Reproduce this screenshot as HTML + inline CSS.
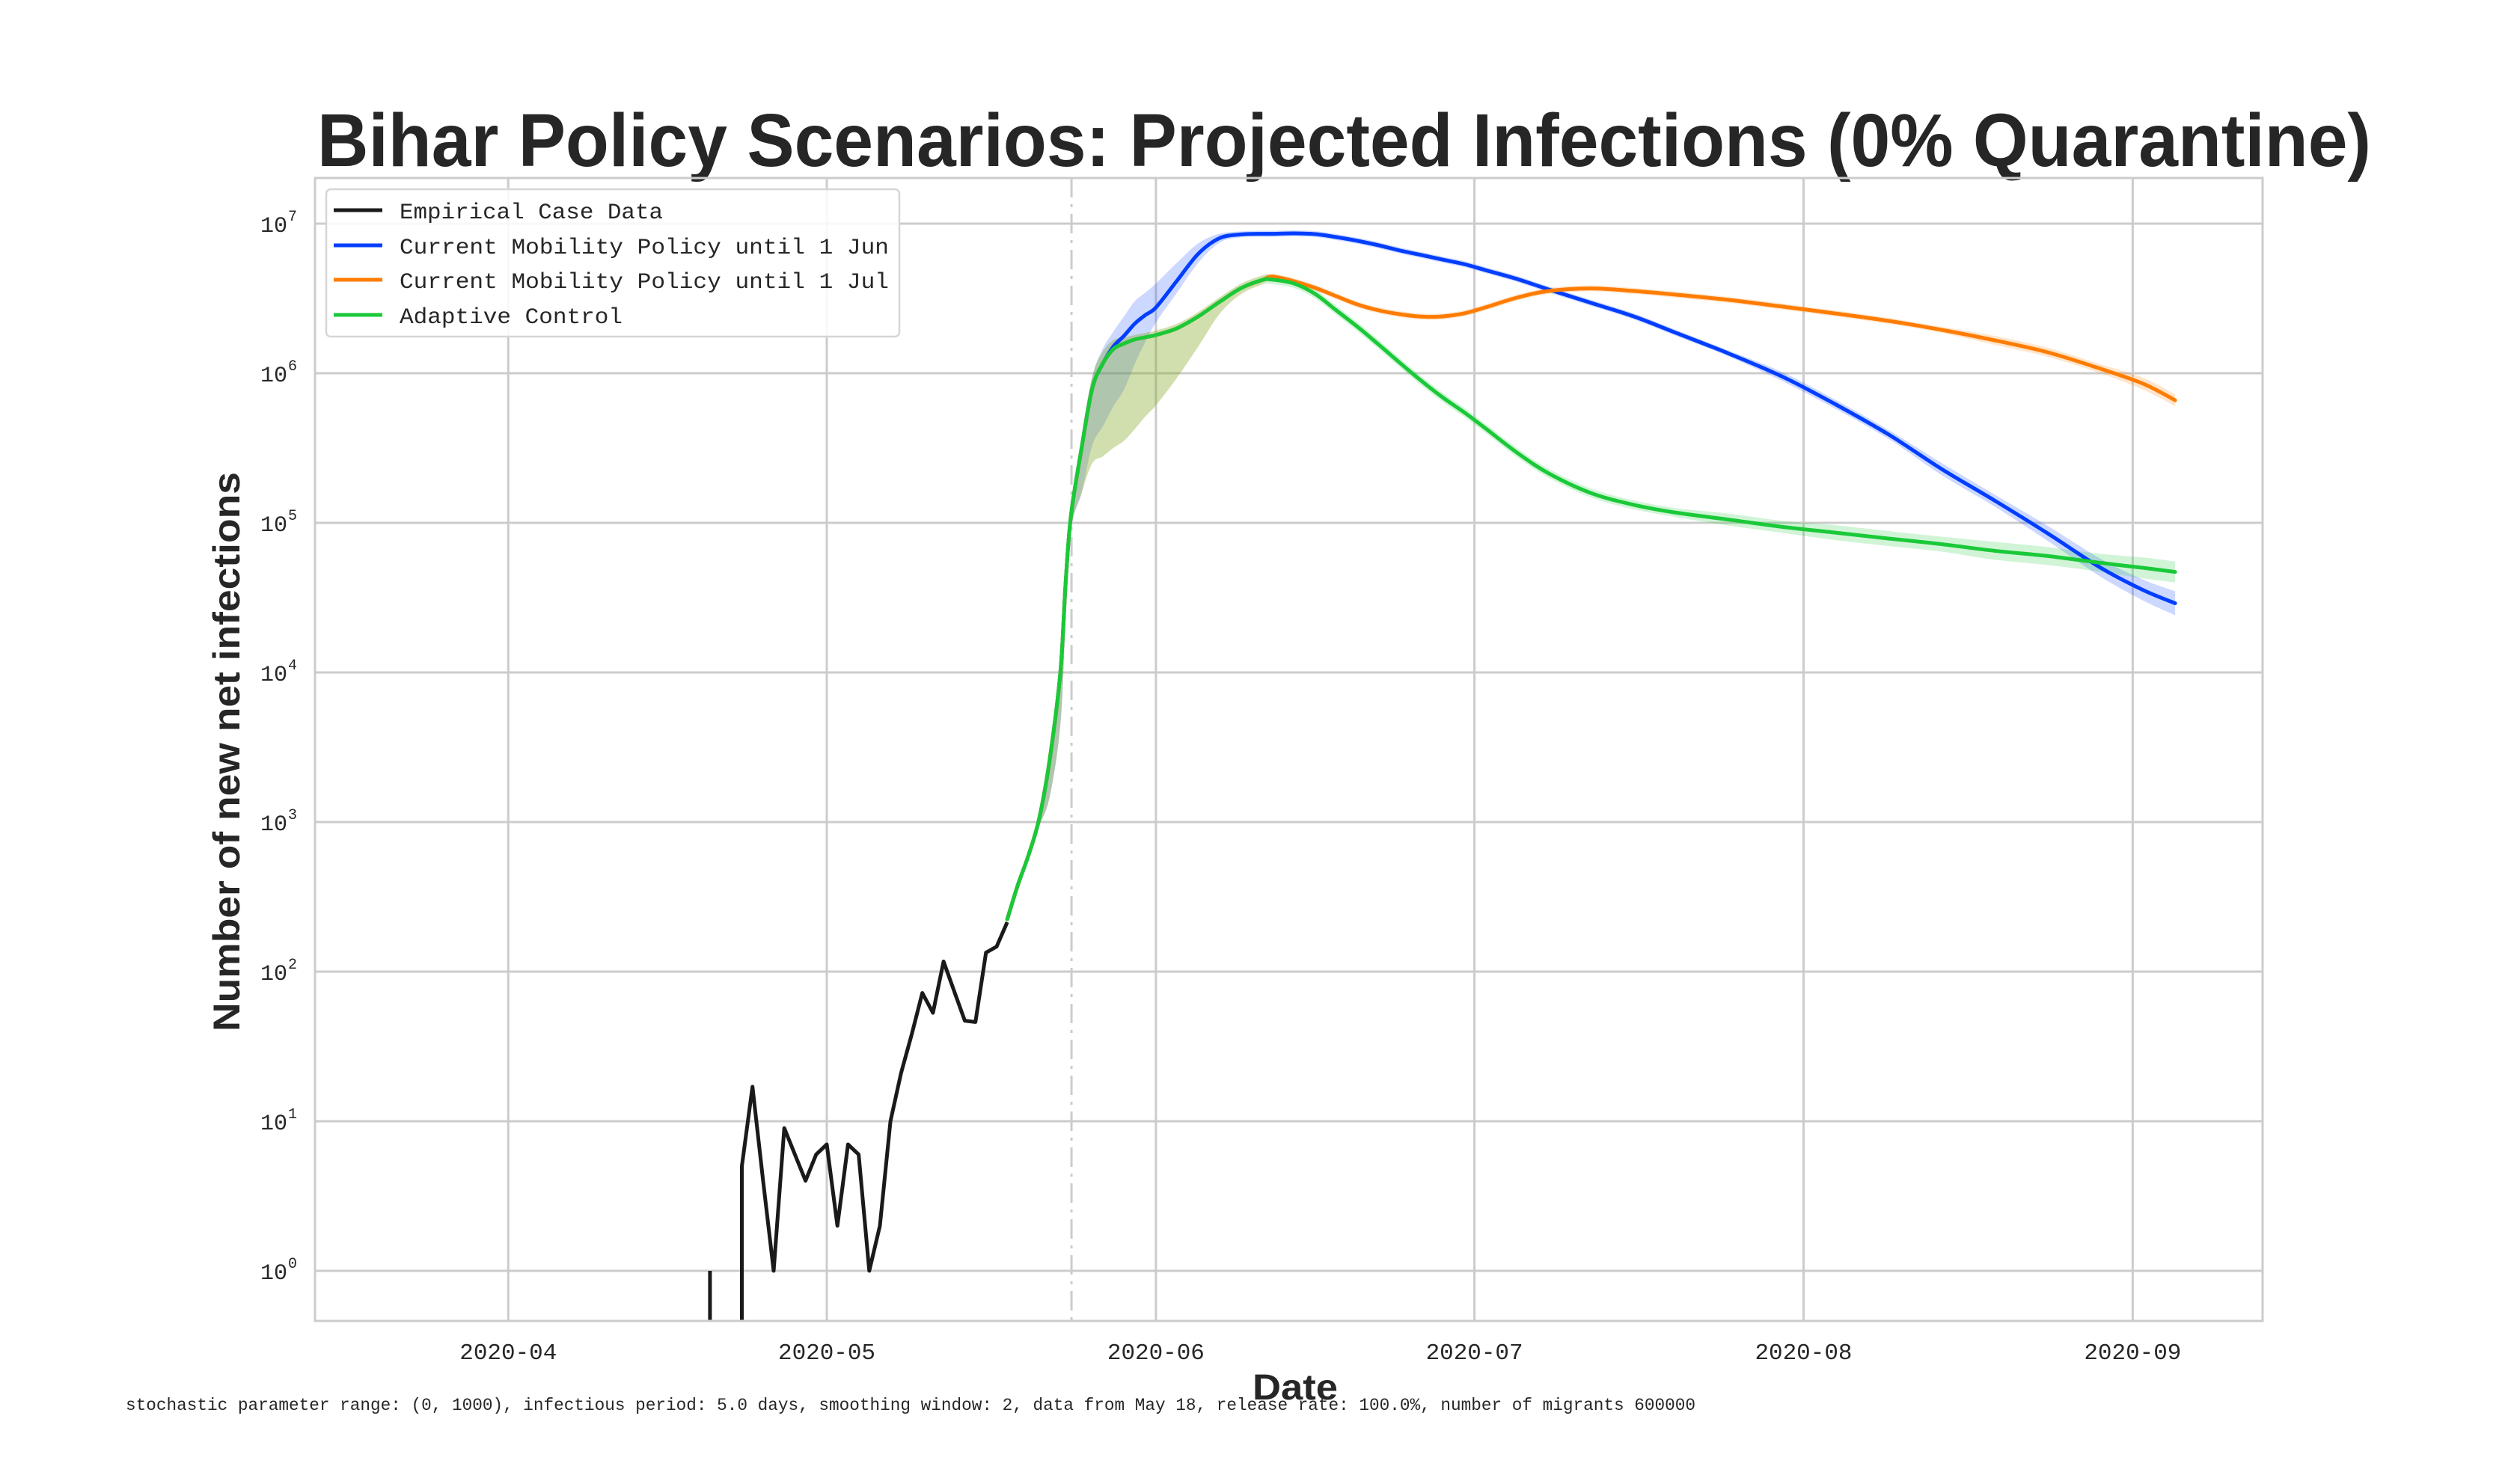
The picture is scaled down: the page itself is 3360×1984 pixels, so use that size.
<!DOCTYPE html>
<html><head><meta charset="utf-8"><style>
html,body{margin:0;padding:0;background:#fff;width:3360px;height:1984px;overflow:hidden;}
svg{display:block;}
</style></head><body>
<svg id="chart" xmlns="http://www.w3.org/2000/svg" width="3360" height="1984" viewBox="0 0 3360 1984">
<rect x="0" y="0" width="3360" height="1984" fill="#fff"/>
<defs><clipPath id="plotclip"><rect x="421" y="238" width="2603" height="1528"/></clipPath></defs>
<text x="424" y="222" font-family="Liberation Sans, sans-serif" font-weight="bold" font-size="100" fill="#262626" textLength="2745" lengthAdjust="spacingAndGlyphs">Bihar Policy Scenarios: Projected Infections (0% Quarantine)</text>
<g id="grid"></g>
<g id="bands" clip-path="url(#plotclip)"></g>
<g id="lines" clip-path="url(#plotclip)"></g>
<rect x="421" y="238" width="2603" height="1528" fill="none" stroke="#cccccc" stroke-width="3"/>
<g id="ticks"></g>
<text x="1731" y="1871" text-anchor="middle" font-family="Liberation Sans, sans-serif" font-weight="bold" font-size="48" fill="#262626" textLength="114" lengthAdjust="spacingAndGlyphs">Date</text>
<text transform="translate(320,1005) rotate(-90)" text-anchor="middle" font-family="Liberation Sans, sans-serif" font-weight="bold" font-size="50" fill="#262626" textLength="748" lengthAdjust="spacingAndGlyphs">Number of new net infections</text>
<text x="168" y="1885" font-family="Liberation Mono, monospace" font-size="23" fill="#262626" textLength="2098" lengthAdjust="spacingAndGlyphs">stochastic parameter range: (0, 1000), infectious period: 5.0 days, smoothing window: 2, data from May 18, release rate: 100.0%, number of migrants 600000</text>
<g id="legend">
<rect x="436" y="253" width="766" height="197" rx="6" fill="#fff" fill-opacity="0.85" stroke="#d6d6d6" stroke-width="2.5"/>
<g><line x1="446" y1="281" x2="511" y2="281" stroke="#1a1a1a" stroke-width="5"/><text x="534" y="292" font-family="Liberation Mono, monospace" font-size="30" fill="#262626" textLength="352" lengthAdjust="spacingAndGlyphs">Empirical Case Data</text></g>
<g><line x1="446" y1="328" x2="511" y2="328" stroke="#023eff" stroke-width="5"/><text x="534" y="339" font-family="Liberation Mono, monospace" font-size="30" fill="#262626" textLength="654" lengthAdjust="spacingAndGlyphs">Current Mobility Policy until 1 Jun</text></g>
<g><line x1="446" y1="374" x2="511" y2="374" stroke="#ff7c00" stroke-width="5"/><text x="534" y="385" font-family="Liberation Mono, monospace" font-size="30" fill="#262626" textLength="654" lengthAdjust="spacingAndGlyphs">Current Mobility Policy until 1 Jul</text></g>
<g><line x1="446" y1="421" x2="511" y2="421" stroke="#1ac938" stroke-width="5"/><text x="534" y="432" font-family="Liberation Mono, monospace" font-size="30" fill="#262626" textLength="298" lengthAdjust="spacingAndGlyphs">Adaptive Control</text></g>
</g>
</svg>
<script>
// days relative to 2020-05-01
const empDays = [-11,-10,-9,-8,-7,-6,-5,-4,-3,-2,-1,0,1,2,3,4,5,6,7,8,9,10,11,12,13,14,15,16,17];
const empValues = [1,0,0,5,17,4,1,9,6,4,6,7,2,7,6,1,2,10,21,38,72,53,117,74,47,46,134,147,214];
const projDays = [17,18,19,20,21,22,22.5,23,24,25,26,27,28,29,30,31,33,35,37,39,41,42,44,46,48,50,52,54,56,58,60,62,65,68,72,76,80,85,90,95,100,105,110,115,120,124,127];
const greenValues = [224,380,600,1050,2630,1.0e4,4.0e4,1.12e5,3.16e5,7.9e5,1.16e6,1.45e6,1.58e6,1.68e6,1.74e6,1.80e6,2.0e6,2.4e6,3.0e6,3.7e6,4.2e6,4.22e6,3.98e6,3.39e6,2.63e6,2.04e6,1.55e6,1.17e6,8.9e5,6.9e5,5.5e5,4.3e5,2.95e5,2.14e5,1.58e5,1.32e5,1.17e5,1.05e5,9.4e4,8.6e4,7.85e4,7.2e4,6.5e4,6.0e4,5.4e4,5.0e4,4.7e4];
const orangeValues = [224,380,600,1050,2630,1.0e4,4.0e4,1.12e5,3.16e5,7.9e5,1.16e6,1.45e6,1.58e6,1.68e6,1.74e6,1.80e6,2.0e6,2.4e6,3.0e6,3.7e6,4.2e6,4.42e6,4.12e6,3.72e6,3.27e6,2.88e6,2.63e6,2.48e6,2.39e6,2.40e6,2.51e6,2.75e6,3.2e6,3.55e6,3.69e6,3.55e6,3.35e6,3.09e6,2.79e6,2.51e6,2.24e6,1.95e6,1.66e6,1.38e6,1.07e6,8.5e5,6.6e5];
const blueValues = [224,380,600,1050,2630,1.0e4,4.0e4,1.12e5,3.16e5,7.9e5,1.16e6,1.51e6,1.78e6,2.14e6,2.45e6,2.75e6,4.17e6,6.3e6,8.0e6,8.47e6,8.55e6,8.55e6,8.61e6,8.51e6,8.13e6,7.67e6,7.16e6,6.61e6,6.17e6,5.75e6,5.37e6,4.9e6,4.27e6,3.63e6,2.95e6,2.4e6,1.86e6,1.35e6,9.5e5,6.2e5,3.9e5,2.29e5,1.41e5,8.5e4,5.0e4,3.55e4,2.9e4];
// band spreads in decades (log10) below / above the line
const greenBandLo = [0,0,-0.02,-0.05,-0.25,-0.35,-0.25,-0.1,-0.3,-0.5,-0.62,-0.66,-0.65,-0.6,-0.53,-0.47,-0.33,-0.2,-0.08,-0.04,-0.03,-0.03,-0.03,-0.03,-0.03,-0.03,-0.03,-0.03,-0.03,-0.03,-0.03,-0.03,-0.03,-0.03,-0.03,-0.03,-0.03,-0.04,-0.04,-0.05,-0.05,-0.05,-0.06,-0.06,-0.06,-0.07,-0.07];
const greenBandHi = [0.02,0.02,0.02,0.03,0.03,0.03,0.04,0.05,0.08,0.08,0.08,0.06,0.04,0.03,0.03,0.03,0.03,0.03,0.03,0.03,0.03,0.03,0.03,0.03,0.03,0.03,0.03,0.03,0.03,0.03,0.03,0.03,0.03,0.03,0.03,0.03,0.03,0.04,0.04,0.05,0.05,0.05,0.06,0.06,0.06,0.07,0.07];
const orangeBandLo = [0,0,-0.02,-0.05,-0.25,-0.35,-0.25,-0.1,-0.3,-0.5,-0.62,-0.66,-0.65,-0.6,-0.53,-0.47,-0.33,-0.2,-0.08,-0.04,-0.03,-0.02,-0.02,-0.02,-0.02,-0.02,-0.02,-0.02,-0.02,-0.02,-0.02,-0.02,-0.02,-0.02,-0.02,-0.02,-0.02,-0.02,-0.02,-0.02,-0.02,-0.02,-0.03,-0.03,-0.03,-0.04,-0.04];
const orangeBandHi = [0.02,0.02,0.02,0.03,0.03,0.03,0.04,0.05,0.08,0.08,0.08,0.06,0.04,0.03,0.03,0.03,0.03,0.03,0.03,0.03,0.03,0.02,0.02,0.02,0.02,0.02,0.02,0.02,0.02,0.02,0.02,0.02,0.02,0.02,0.02,0.02,0.02,0.02,0.02,0.02,0.02,0.02,0.03,0.03,0.03,0.04,0.04];
const blueBandLo = [0,0,-0.02,-0.05,-0.25,-0.35,-0.25,-0.1,-0.3,-0.38,-0.42,-0.4,-0.36,-0.27,-0.18,-0.1,-0.08,-0.06,-0.03,-0.02,-0.02,-0.02,-0.02,-0.02,-0.02,-0.02,-0.02,-0.02,-0.02,-0.02,-0.02,-0.02,-0.02,-0.02,-0.02,-0.02,-0.02,-0.02,-0.03,-0.03,-0.03,-0.04,-0.04,-0.05,-0.06,-0.07,-0.08];
const blueBandHi = [0.02,0.02,0.02,0.03,0.03,0.03,0.04,0.05,0.08,0.08,0.1,0.1,0.13,0.15,0.15,0.16,0.12,0.07,0.03,0.02,0.02,0.02,0.02,0.02,0.02,0.02,0.02,0.02,0.02,0.02,0.02,0.02,0.02,0.02,0.02,0.02,0.02,0.02,0.03,0.03,0.03,0.04,0.04,0.05,0.06,0.07,0.08];
const xTickDays = [-30,0,31,61,92,123];
const xTickLabels = ["2020-04","2020-05","2020-06","2020-07","2020-08","2020-09"];
const yTickExps = [0,1,2,3,4,5,6,7];
const policyDay = 23.05;

const NS = "http://www.w3.org/2000/svg";
const X0 = 1105, PXD = 14.19, Y7 = 299, PXDEC = 200, YBOT = 1768;
function xScale(d){ return X0 + d * PXD; }
function yLog(l){ return Y7 + (7 - l) * PXDEC; }
function yScale(v){ return v <= 0 ? YBOT : yLog(Math.log10(v)); }
function mk(tag, attrs, parent){ const e = document.createElementNS(NS, tag); for (const k in attrs) e.setAttribute(k, attrs[k]); parent.appendChild(e); return e; }
function smooth(pts){
  let d = "M" + pts[0][0].toFixed(1) + "," + pts[0][1].toFixed(1);
  for (let i = 0; i < pts.length - 1; i++){
    const p0 = pts[Math.max(0,i-1)], p1 = pts[i], p2 = pts[i+1], p3 = pts[Math.min(pts.length-1,i+2)];
    const c1 = [p1[0] + (p2[0]-p0[0])/6, p1[1] + (p2[1]-p0[1])/6];
    const c2 = [p2[0] - (p3[0]-p1[0])/6, p2[1] - (p3[1]-p1[1])/6];
    d += " C" + c1[0].toFixed(1) + "," + c1[1].toFixed(1) + " " + c2[0].toFixed(1) + "," + c2[1].toFixed(1) + " " + p2[0].toFixed(1) + "," + p2[1].toFixed(1);
  }
  return d;
}
const grid = document.getElementById("grid");
const ticks = document.getElementById("ticks");
yTickExps.forEach(function(e){
  const y = yLog(e);
  const gl = mk("line", {x1:421, x2:3024, y1:y, y2:y, stroke:"#cccccc", "stroke-width":3}, grid);
  
  
  const t = mk("text", {x:384, y:y+11, "text-anchor":"end", "font-family":"Liberation Mono, monospace", "font-size":30, fill:"#262626"}, ticks);
  t.textContent = "10";
  
  
  const s = mk("text", {x:385, y:y-4, "font-family":"Liberation Mono, monospace", "font-size":20, fill:"#262626"}, ticks);
  s.textContent = String(e);
  
  
});
xTickDays.forEach(function(d, i){
  const x = xScale(d);
  const gl = mk("line", {x1:x, x2:x, y1:238, y2:1766, stroke:"#cccccc", "stroke-width":3}, grid);
  
  
  const t = mk("text", {x:x, y:1817, "text-anchor":"middle", "font-family":"Liberation Mono, monospace", "font-size":31, fill:"#262626", textLength:130, lengthAdjust:"spacingAndGlyphs"}, ticks);
  t.textContent = xTickLabels[i];
  
  
});
const pl = mk("line", {x1:xScale(policyDay), x2:xScale(policyDay), y1:238, y2:1766, stroke:"#cccccc", "stroke-width":3, "stroke-dasharray":"26,9,4,9"}, grid);



const bands = document.getElementById("bands");
const lines = document.getElementById("lines");
function band(vals, lo, hi, color, name){
  const up = projDays.map(function(d,i){ return [xScale(d), yLog(Math.log10(vals[i]) + hi[i])]; });
  const dn = projDays.map(function(d,i){ return [xScale(d), yLog(Math.log10(vals[i]) + lo[i])]; }).reverse();
  let d = smooth(up) + " L" + smooth(dn).slice(1) + " Z";
  const p = mk("path", {d:d, fill:color, "fill-opacity":0.2, stroke:"none"}, bands);
  
  
}
band(blueValues, blueBandLo, blueBandHi, "#023eff", "band-1-jun");
band(orangeValues, orangeBandLo, orangeBandHi, "#ff7c00", "band-1-jul");
band(greenValues, greenBandLo, greenBandHi, "#1ac938", "band-adaptive");

// zero values on a log axis drop vertically to the bottom edge
const empPts = [];
empDays.forEach(function(d, i){
  const v = empValues[i];
  if (v > 0) { empPts.push(xScale(d).toFixed(1) + "," + yScale(v).toFixed(1)); return; }
  if (i > 0 && empValues[i-1] > 0) empPts.push(xScale(empDays[i-1]).toFixed(1) + "," + YBOT);
  if (i < empDays.length - 1 && empValues[i+1] > 0) empPts.push(xScale(empDays[i+1]).toFixed(1) + "," + YBOT);
});
const emp = mk("polyline", {points:empPts.join(" "), fill:"none", stroke:"#1a1a1a", "stroke-width":5, "stroke-linejoin":"round"}, lines);


function series(vals, color, name){
  const pts = projDays.map(function(d,i){ return [xScale(d), yScale(vals[i])]; });
  const p = mk("path", {d:smooth(pts), fill:"none", stroke:color, "stroke-width":5, "stroke-linejoin":"round", "stroke-linecap":"round"}, lines);
  
  
}
series(blueValues, "#023eff", "line-1-jun");
series(orangeValues, "#ff7c00", "line-1-jul");
series(greenValues, "#1ac938", "line-adaptive");
</script>
</body></html>
